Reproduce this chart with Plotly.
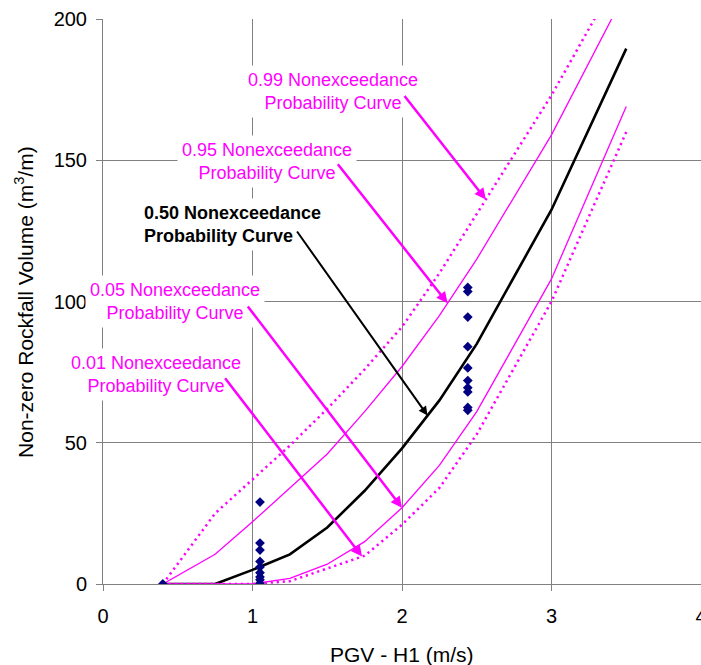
import numpy as np
import plotly.graph_objects as go

# PGV grid on which the nonexceedance probability curves are evaluated
pgv_grid = [0.4, 0.75, 1.0, 1.25, 1.5, 1.75, 2.0, 2.25, 2.5, 3.0, 3.5]

# Rockfall volume (m3/m) for each nonexceedance probability level
curve_p99 = [0, 25, 37, 49, 62, 76, 91, 110, 131, 173, 220]
curve_p95 = [0, 10.5, 22, 34, 46, 61, 77, 95, 115, 159, 210]
curve_p50 = [0, 0, 5, 10.5, 20, 33, 48, 65, 85, 132.5, 189.5]
curve_p05 = [0, 0, 0, 2, 7, 15, 27, 42, 61, 108, 169]
curve_p01 = [0, 0, 0, 1, 5.5, 10, 21, 34, 53, 100, 160]

# Observed non-zero rockfall volumes
obs_pgv = [0.4] + [1.05] * 9 + [2.44] * 10
obs_volume = [0,
              29, 14.5, 12, 8, 6, 4, 2.5, 1.5, 0.3,
              105, 103.5, 94.5, 84, 76.5, 72, 69.5, 68, 62.5, 61.5]

x_ticks = [0, 1, 2, 3, 4]
y_ticks = [0, 50, 100, 150, 200]

MAGENTA = "#FF00FF"
GRID = "#808080"
FONT = "Liberation Sans, Arial, sans-serif"

fig = go.Figure()

dot_style = "2.2px,3.8px"
fig.add_trace(go.Scatter(x=pgv_grid, y=curve_p99, mode="lines",
                         line=dict(color=MAGENTA, width=2.5, dash=dot_style)))
fig.add_trace(go.Scatter(x=pgv_grid, y=curve_p95, mode="lines",
                         line=dict(color=MAGENTA, width=1.3)))
fig.add_trace(go.Scatter(x=pgv_grid, y=curve_p50, mode="lines",
                         line=dict(color="black", width=2.6)))
fig.add_trace(go.Scatter(x=pgv_grid, y=curve_p05, mode="lines",
                         line=dict(color=MAGENTA, width=1.3)))
fig.add_trace(go.Scatter(x=pgv_grid, y=curve_p01, mode="lines",
                         line=dict(color=MAGENTA, width=2.5, dash=dot_style)))
fig.add_trace(go.Scatter(x=obs_pgv, y=obs_volume, mode="markers",
                         marker=dict(symbol="diamond", size=7.5, color="#000080",
                                     line=dict(width=0))))

# Curve labels: (text, x, y, colour, anchor)
labels = [
    ("0.99 Nonexceedance<br>Probability Curve", 1.540, 174.4, MAGENTA, "center"),
    ("0.95 Nonexceedance<br>Probability Curve", 1.100, 149.5, MAGENTA, "center"),
    ("<b>0.50 Nonexceedance</b><br><b>Probability Curve</b>", 0.240, 127.2, "black", "left"),
    ("0.05 Nonexceedance<br>Probability Curve", 0.480, 99.9, MAGENTA, "center"),
    ("0.01 Nonexceedance<br>Probability Curve", 0.356, 74.3, MAGENTA, "center"),
]
for text, lx, ly, col, anchor in labels:
    fig.add_annotation(x=lx, y=ly, xref="x", yref="y", text=text, showarrow=False,
                       xanchor=anchor, yanchor="middle", align=anchor,
                       font=dict(family=FONT, size=18, color=col),
                       bgcolor="white", borderpad=4)

# Leader arrows: tail position and the PGV where each arrow meets its curve
arrows = [
    (curve_p99, 2.561, 2.009, 173.3, MAGENTA, 2.5),
    (curve_p95, 2.305, 1.563, 149.1, MAGENTA, 2.5),
    (curve_p50, 2.171, 1.291, 125.3, "black", 2.0),
    (curve_p05, 2.000, 0.961, 98.8, MAGENTA, 2.5),
    (curve_p01, 1.733, 0.809, 73.4, MAGENTA, 2.5),
]
for curve, tip_x, tail_x, tail_y, col, w in arrows:
    tip_y = float(np.interp(tip_x, pgv_grid, curve))
    fig.add_annotation(x=tip_x, y=tip_y, ax=tail_x, ay=tail_y,
                       xref="x", yref="y", axref="x", ayref="y",
                       text="", showarrow=True, arrowhead=2, arrowsize=0.9,
                       arrowwidth=w, arrowcolor=col, standoff=0, startstandoff=0)

# Axis titles
fig.add_annotation(x=0.5, y=-0.124, xref="paper", yref="paper",
                   text="PGV - H1 (m/s)", showarrow=False,
                   xanchor="center", yanchor="middle",
                   font=dict(family=FONT, size=21, color="black"))
fig.add_annotation(x=-0.133, y=0.5, xref="paper", yref="paper",
                   text="Non-zero Rockfall Volume (m<sup>3</sup>/m)", showarrow=False,
                   textangle=-90, xanchor="center", yanchor="middle",
                   font=dict(family=FONT, size=21, color="black"))

axis_common = dict(showgrid=True, gridcolor=GRID, gridwidth=1,
                   showline=True, linecolor=GRID, linewidth=1,
                   ticks="outside", ticklen=6, tickcolor=GRID, tickwidth=1,
                   zeroline=False, automargin=False,
                   tickfont=dict(family=FONT, size=20, color="black"))

fig.update_layout(
    template="none",
    width=701, height=665,
    margin=dict(l=103, r=0, t=19, b=81),
    paper_bgcolor="white", plot_bgcolor="white",
    showlegend=False,
    font=dict(family=FONT, color="black"),
    xaxis=dict(range=[0, 4], tickvals=x_ticks, ticklabelstandoff=8,
               ticklabeloverflow="allow", **axis_common),
    yaxis=dict(range=[0, 200], tickvals=y_ticks, ticklabelstandoff=5, **axis_common),
)

fig.write_html("out.html")
